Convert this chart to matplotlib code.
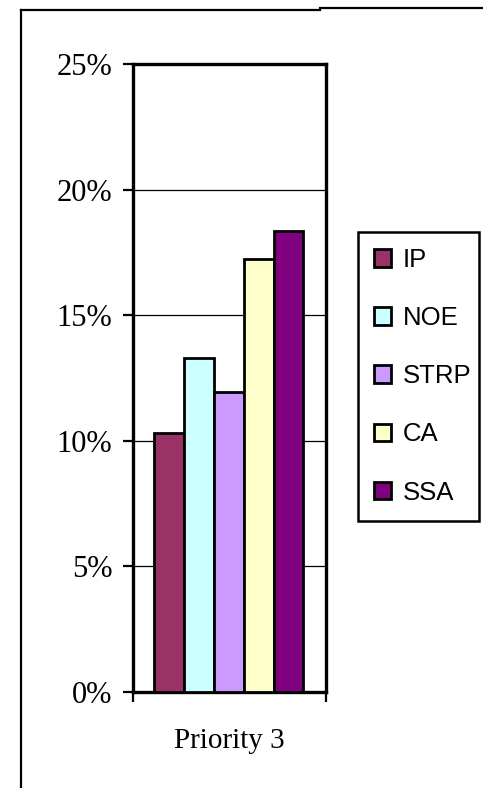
import matplotlib
matplotlib.use("Agg")
import matplotlib.pyplot as plt
from matplotlib.patches import Patch
from matplotlib.lines import Line2D

# Share of items per group, priority 3
category = "Priority 3"
groups = ["IP", "NOE", "STRP", "CA", "SSA"]
values = [10.3, 13.3, 11.95, 17.25, 18.35]
colors = ["#993366", "#CCFFFF", "#CC99FF", "#FFFFCC", "#800080"]
y_ticks = [0, 5, 10, 15, 20, 25]
y_tick_labels = ["0%", "5%", "10%", "15%", "20%", "25%"]

W, H, DPI = 483, 788, 100
fig = plt.figure(figsize=(W / DPI, H / DPI), dpi=DPI)
fig.patch.set_facecolor("white")

# outer chart frame (only top and left edges are visible)
fig.add_artist(Line2D([21 / W, 21 / W], [0, 1 - 10 / H], color="black", lw=1.6,
                      transform=fig.transFigure))
fig.add_artist(Line2D([21 / W, 320 / W], [1 - 10 / H, 1 - 10 / H], color="black", lw=1.6,
                      transform=fig.transFigure))
fig.add_artist(Line2D([320 / W, 1], [1 - 8 / H, 1 - 8 / H], color="black", lw=1.6,
                      transform=fig.transFigure))

ax = fig.add_axes([133 / W, 1 - 692 / H, (326 - 133) / W, (692 - 64) / H])
ax.set_xlim(0, 1)
ax.set_ylim(0, 25)

bar_w = 0.1545
center = 0.497
for i, (g, v, c) in enumerate(zip(groups, values, colors)):
    x = center + (i - 2) * bar_w
    ax.bar(x, v, width=bar_w, color=c, edgecolor="black", linewidth=2.0,
           label=g, zorder=3)

ax.set_yticks(y_ticks, y_tick_labels)
ax.yaxis.grid(True, color="black", linewidth=0.9, zorder=1)
ax.set_axisbelow(True)

for s in ax.spines.values():
    s.set_linewidth(2.4)
    s.set_color("black")

serif = ["Liberation Serif", "DejaVu Serif"]
ax.tick_params(axis="y", direction="out", length=7.5, width=1.6, pad=7.5,
               labelsize=22)
for t in ax.get_yticklabels():
    t.set_fontfamily(serif)

ax.set_xticks([0.5], [category])
ax.set_xticks([0, 1], minor=True)
ax.tick_params(axis="x", which="major", length=0, pad=26, labelsize=21)
ax.tick_params(axis="x", which="minor", direction="out", length=7.5, width=1.6)
for t in ax.get_xticklabels():
    t.set_fontfamily(serif)

# legend box spans a fixed width to the right of the plot
handles = [Patch(facecolor=c, edgecolor="black", linewidth=2.0) for c in colors]
leg_left, leg_top, leg_w = 358 / W, 1 - 232 / H, 121 / W
leg = fig.legend(handles, groups, loc="upper left", mode="expand",
                 bbox_to_anchor=(leg_left, leg_top - 0.3, leg_w, 0.3),
                 borderaxespad=0,
                 prop={"family": ["Liberation Sans", "DejaVu Sans"], "size": 18.5},
                 handlelength=0.68, handleheight=0.68, handletextpad=0.45,
                 labelspacing=1.33, borderpad=0.62, frameon=True, fancybox=False,
                 framealpha=1.0)
leg.get_frame().set_edgecolor("black")
leg.get_frame().set_linewidth(1.8)

fig.savefig("out.png", dpi=DPI, facecolor="white")
